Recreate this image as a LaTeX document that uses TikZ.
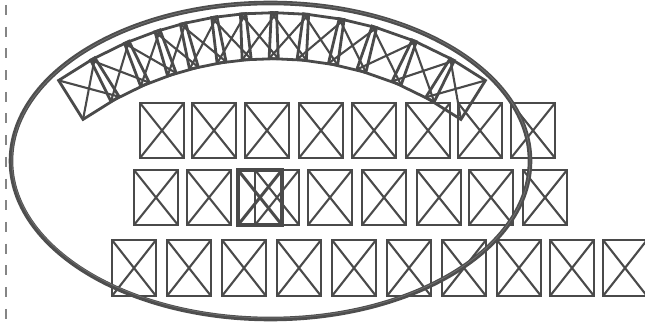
\documentclass[tikz,border=0pt]{standalone}
\usepackage{tikz}
\usepackage{xcolor}
\usetikzlibrary{positioning,calc}
\definecolor{boxink}{HTML}{4A4A4A}
\definecolor{ringink}{HTML}{4E4E4E}
\definecolor{ringsoft}{HTML}{707070}
\definecolor{guide}{HTML}{858585}

\begin{document}
\begin{tikzpicture}[
  x=1pt, y=-1pt,
  xbox/.style={
    rectangle, draw=boxink, line width=2.8pt,
    fill=none, inner sep=0pt, outer sep=0pt,
    minimum width=44pt, minimum height=55pt
  },
  xcross/.style={draw=boxink, line width=2.1pt},
  ring/.style={draw=ringink, line width=4.6pt},
  ringhair/.style={draw=ringsoft, line width=0.7pt},
  guideline/.style={draw=guide, line width=1.8pt, dash pattern=on 10pt off 11.7pt, dash phase=-5pt}
]
\useasboundingbox (0,0) rectangle (645,328);

% --- dashed margin guide ---
\coordinate (gtop) at (6,0);
\coordinate (gbot) at (6,328);
\draw[guideline] (gtop) -- (gbot);

% --- curved line of boxes (top) ---
\foreach \a/\b [count=\k] in {125.0/119.1, 119.1/113.2, 113.2/108.1, 108.1/104.0,
    104.0/99.0, 99.0/94.5, 94.5/89.7, 89.7/84.7, 84.7/79.1, 79.1/73.9,
    73.9/67.3, 67.3/60.7, 60.7/55.0} {
  \pgfmathsetmacro\amid{(\a+\b)/2}
  \pgfmathsetmacro\boxw{2*345*sin((\a-\b)/2+0.6)}
  \node[xbox, rotate=\amid-90, minimum width=\boxw pt, minimum height=46pt]
    (arc\k) at ({272+345*cos(\amid)},{381-345*sin(\amid)}) {};
  \draw[xcross] (arc\k.north west) -- (arc\k.south east)
                (arc\k.north east) -- (arc\k.south west);
}

% --- first straight row ---
\foreach \x [count=\i] in {140,192,245,299,352,406,458,511} {
  \node[xbox, anchor=north west] (rowa\i) at (\x,103) {};
  \draw[xcross] (rowa\i.north west) -- (rowa\i.south east)
                (rowa\i.north east) -- (rowa\i.south west);
}

% --- second row (one box doubled) ---
\foreach \x [count=\i] in {134,187,255,308,362,417,469,523} {
  \node[xbox, anchor=north west] (rowb\i) at (\x,170) {};
  \draw[xcross] (rowb\i.north west) -- (rowb\i.south east)
                (rowb\i.north east) -- (rowb\i.south west);
}
\node[xbox, anchor=north west, line width=3.4pt] (rowbx) at (238,170) {};
\draw[xcross, line width=3pt] (rowbx.north west) -- (rowbx.south east)
                              (rowbx.north east) -- (rowbx.south west);

% --- third row ---
\foreach \x [count=\i] in {112,167,222,277,332,387,442,497,550,603} {
  \node[xbox, anchor=north west, minimum height=56pt] (rowc\i) at (\x,240) {};
  \draw[xcross] (rowc\i.north west) -- (rowc\i.south east)
                (rowc\i.north east) -- (rowc\i.south west);
}

% --- enclosing loop ---
\coordinate (loopc) at (270.5,161);
\draw[ring] (loopc) ellipse [x radius=259.5, y radius=158];
\draw[ringhair] ($(loopc)+(0.5,-0.6)$) ellipse [x radius=259, y radius=157.6];

\end{tikzpicture}
\end{document}
